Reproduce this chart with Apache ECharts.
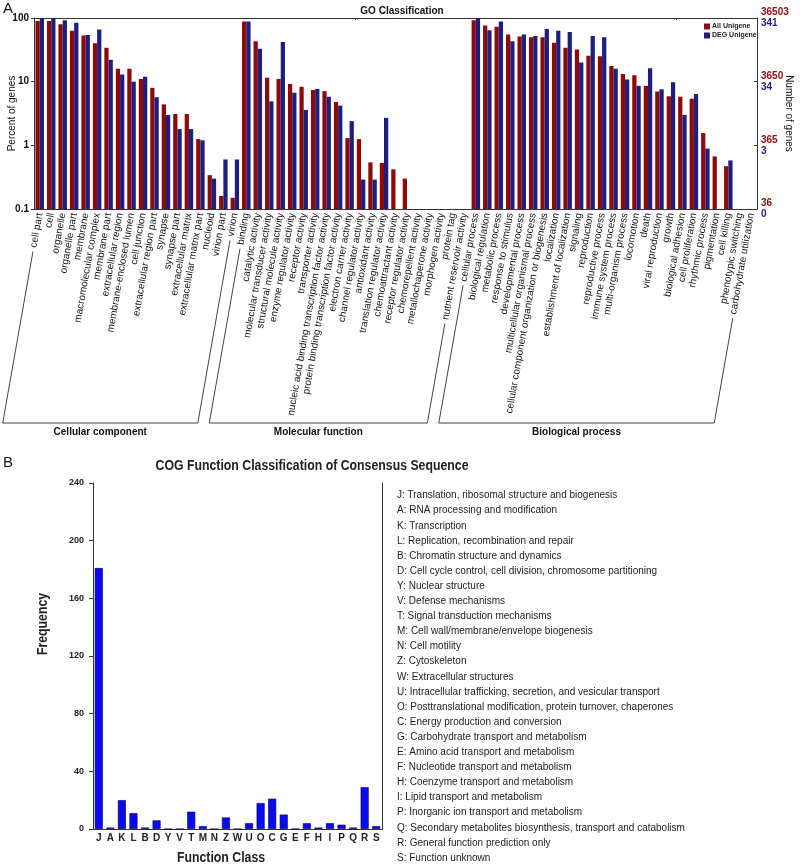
<!DOCTYPE html>
<html>
<head>
<meta charset="utf-8">
<script src="https://cdn.jsdelivr.net/npm/echarts@6/dist/echarts.min.js"></script>
<style>html,body{margin:0;padding:0;background:#fff;}#c{width:800px;height:867px;}</style>
</head>
<body>
<div id="c"></div>
<script>
// ---------------- DATA ----------------
const goCategories = [
  'cell part','cell','organelle','organelle part','membrane','macromolecular complex','membrane part',
  'extracellular region','membrane-enclosed lumen','cell junction','extracellular region part','synapse',
  'synapse part','extracellular matrix','extracellular matrix part','nucleoid','virion part','virion',
  'binding','catalytic activity','molecular transducer activity','structural molecule activity',
  'enzyme regulator activity','receptor activity','transporter activity',
  'nucleic acid binding transcription factor activity','protein binding transcription factor activity',
  'electron carrier activity','channel regulator activity','antioxidant activity','translation regulator activity',
  'chemoattractant activity','receptor regulator activity','chemorepellent activity','metallochaperone activity',
  'morphogen activity','protein tag','nutrient reservoir activity',
  'cellular process','biological regulation','metabolic process','response to stimulus','developmental process',
  'multicellular organismal process','cellular component organization or biogenesis','localization',
  'establishment of localization','signaling','reproduction','reproductive process','immune system process',
  'multi-organism process','locomotion','death','viral reproduction','growth','biological adhesion',
  'cell proliferation','rhythmic process','pigmentation','cell killing','phenotypic switching','carbohydrate utilization'
];
const allUnigene = [
  90, 90, 80, 63, 53, 40, 34, 16, 16, 11, 8, 4.4, 3.1, 3.1, 1.25, 0.34, 0.16, 0.15,
  88, 43, 11.5, 11, 9.2, 8.3, 7.4, 7.1, 4.8, 1.3, 1.25, 0.54, 0.53, 0.42, 0.30, null, null, null, null, null,
  92, 76, 73, 55, 51, 50, 50, 41, 34, 32, 25.5, 25, 17.7, 13.2, 12.6, 8.6, 7.0, 5.9, 5.8, 5.4, 1.56, 0.67, 0.47, null, null
];
const degUnigene = [
  98, 98, 92, 84, 54, 66, 22, 13, 10, 12, 5.7, 3.0, 1.8, 1.8, 1.2, 0.3, 0.6, 0.6,
  88, 33, 4.9, 42, 6.7, 3.6, 7.7, 5.8, 4.2, 2.4, 0.29, 0.29, 2.7, null, null, null, null, null, null, null,
  98, 64, 88, 43, 55, 52, 67, 63, 60, 20, 52, 50, 16, 10.8, 8.6, 16.3, 7.6, 9.8, 3.0, 6.4, 0.89, null, 0.58, null, null
];
const goGroupNames = ['Cellular component', 'Molecular function', 'Biological process'];
const goGroupSizes = [18, 20, 25];
const percentTickLabels = ['0.1', '1', '10', '100'];
const rightAllLabels = ['36', '365', '3650', '36503'];
const rightDegLabels = ['0', '3', '34', '341'];
const seriesNames = ['All Unigene', 'DEG Unigene'];

const cogClasses = ['J','A','K','L','B','D','Y','V','T','M','N','Z','W','U','O','C','G','E','F','H','I','P','Q','R','S'];
const cogFrequency = [181, 1, 20, 11, 1, 6, 0, 0, 12, 2, 0, 8, 0, 4, 18, 21, 10, 0, 4, 1, 4, 3, 1, 29, 2];
const cogDescriptions = [
  'J: Translation, ribosomal structure and biogenesis',
  'A: RNA processing and modification',
  'K: Transcription',
  'L: Replication, recombination and repair',
  'B: Chromatin structure and dynamics',
  'D: Cell cycle control, cell division, chromosome partitioning',
  'Y: Nuclear structure',
  'V: Defense mechanisms',
  'T: Signal transduction mechanisms',
  'M: Cell wall/membrane/envelope biogenesis',
  'N: Cell motility',
  'Z: Cytoskeleton',
  'W: Extracellular structures',
  'U: Intracellular trafficking, secretion, and vesicular transport',
  'O: Posttranslational modification, protein turnover, chaperones',
  'C: Energy production and conversion',
  'G: Carbohydrate transport and metabolism',
  'E: Amino acid transport and metabolism',
  'F: Nucleotide transport and metabolism',
  'H: Coenzyme transport and metabolism',
  'I: Lipid transport and metabolism',
  'P: Inorganic ion transport and metabolism',
  'Q: Secondary metabolites biosynthesis, transport and catabolism',
  'R: General function prediction only',
  'S: Function unknown'
];
const cogYTicks = [0, 40, 80, 120, 160, 200, 240];

// ---------------- STYLE ----------------
const FONT = '"Liberation Sans", Arial, Helvetica, sans-serif';
const RED = '#8c0a0a';
const BLUE = '#1e1e7e';
const COG_BLUE = '#0a0af0';
const LABEL_ROT = 80;
const LABEL_FS = 10;
const LABEL_MARGIN = 4;
const BRACKET_Y = 423;
const NARROW_SCALE = 0.82;

const chart = echarts.init(document.getElementById('c'), null, {renderer: 'canvas'});

const option = {
  backgroundColor: '#fff',
  animation: false,
  textStyle: {fontFamily: FONT},
  title: [
    {text: 'GO Classification', left: 397, top: 1, textAlign: 'center',
      textStyle: {fontSize: 10, fontWeight: 'bold', color: '#111', fontFamily: FONT}}
  ],
  legend: {
    data: seriesNames,
    orient: 'vertical', left: 699, top: 18,
    itemWidth: 6, itemHeight: 6, itemGap: 2,
    icon: 'rect',
    textStyle: {fontSize: 7, fontWeight: 'bold', color: '#222', padding: [0, 0, 0, -3]}
  },
  grid: [
    {left: 34, right: 43, top: 18, height: 191, outerBoundsMode: 'none', containLabel: false},
    {left: 93, width: 289, top: 483, height: 346, outerBoundsMode: 'none', containLabel: false}
  ],
  xAxis: [
    {gridIndex: 0, type: 'category', data: goCategories, position: 'bottom',
      axisLine: {lineStyle: {color: '#333', width: 1}},
      axisTick: {show: false},
      axisLabel: {interval: 0, rotate: LABEL_ROT, fontSize: LABEL_FS, color: '#111', margin: LABEL_MARGIN, fontFamily: FONT}},
    {gridIndex: 0, type: 'category', data: goCategories, position: 'top',
      axisLine: {lineStyle: {color: '#333', width: 1}},
      axisTick: {show: true, inside: true, length: 2, lineStyle: {color: '#333'}},
      axisLabel: {show: false}},
    {gridIndex: 1, type: 'category', data: cogClasses, position: 'bottom',
      axisLine: {lineStyle: {color: '#333', width: 1}},
      axisTick: {show: false},
      axisLabel: {interval: 0, fontSize: 10, fontWeight: 'bold', color: '#222', margin: 4, fontFamily: FONT}},
    {gridIndex: 1, type: 'category', data: cogClasses, position: 'top',
      axisLine: {lineStyle: {color: '#333', width: 1}},
      axisTick: {show: false}, axisLabel: {show: false}}
  ],
  yAxis: [
    {gridIndex: 0, type: 'log', logBase: 10, min: 0.1, max: 100, startValue: 0.1,
      axisLine: {show: true, lineStyle: {color: '#333'}},
      axisTick: {show: true, length: 3, lineStyle: {color: '#333'}},
      splitLine: {show: false},
      axisLabel: {fontSize: 10, fontWeight: 'bold', color: '#111', margin: 5,
        formatter: v => percentTickLabels[Math.round(Math.log10(v)) + 1]},
      name: 'Percent of genes', nameLocation: 'middle', nameGap: 17, nameMoveOverlap: false,
      nameTextStyle: {fontSize: 10, color: '#111'}},
    {gridIndex: 0, type: 'log', logBase: 10, min: 0.1, max: 100, position: 'right',
      axisLine: {show: true, lineStyle: {color: '#333'}},
      axisTick: {show: true, inside: true, length: 3, lineStyle: {color: '#333'}},
      splitLine: {show: false},
      axisLabel: {margin: 4, lineHeight: 11,
        formatter: v => {
          const i = Math.round(Math.log10(v)) + 1;
          return '{r|' + rightAllLabels[i] + '}\n{b|' + rightDegLabels[i] + '}';
        },
        rich: {
          r: {color: RED, fontSize: 10, fontWeight: 'bold', fontFamily: FONT, lineHeight: 11},
          b: {color: BLUE, fontSize: 10, fontWeight: 'bold', fontFamily: FONT, lineHeight: 11}
        }},
      name: 'Number of genes', nameLocation: 'middle', nameGap: 27, nameRotate: -90, nameMoveOverlap: false,
      nameTextStyle: {fontSize: 10, color: '#111'}},
    {gridIndex: 1, type: 'value', min: 0, max: 240, interval: 40,
      axisLine: {show: true, lineStyle: {color: '#333'}},
      axisTick: {show: true, length: 4, lineStyle: {color: '#333'}},
      splitLine: {show: false},
      axisLabel: {fontSize: 9, fontWeight: 'bold', color: '#222', margin: 9, fontFamily: FONT,
        formatter: v => cogYTicks.indexOf(v) >= 0 ? String(v) : ''}},
    {gridIndex: 1, type: 'value', min: 0, max: 240, position: 'right',
      axisLine: {show: true, lineStyle: {color: '#333'}},
      axisTick: {show: false}, axisLabel: {show: false}, splitLine: {show: false}}
  ],
  series: [
    {name: seriesNames[0], type: 'bar', xAxisIndex: 0, yAxisIndex: 0, data: allUnigene,
      barWidth: '37%', barGap: '0%', itemStyle: {color: RED}},
    {name: seriesNames[1], type: 'bar', xAxisIndex: 0, yAxisIndex: 0, data: degUnigene,
      barWidth: '37%', barGap: '0%', itemStyle: {color: BLUE}},
    {name: 'COG', type: 'bar', xAxisIndex: 2, yAxisIndex: 2, data: cogFrequency,
      barWidth: 8, itemStyle: {color: COG_BLUE, borderColor: '#00005a', borderWidth: 0.6}}
  ],
  graphic: []
};
chart.setOption(option);

// ------------- Group brackets (computed from axis positions) -------------
const ctx = document.createElement('canvas').getContext('2d');
ctx.font = LABEL_FS + 'px ' + FONT;
const th = LABEL_ROT * Math.PI / 180;
const dx = -Math.cos(th), dy = Math.sin(th);
const axisY = chart.convertToPixel({yAxisIndex: 0}, 0.1);
function labelEnd(idx) {
  const x = chart.convertToPixel({xAxisIndex: 0}, goCategories[idx]);
  const y = axisY + LABEL_MARGIN;
  const L = ctx.measureText(goCategories[idx]).width + 4;
  return [x + dx * L, y + dy * L];
}
function toBase(p) {
  return [p[0] + dx * (BRACKET_Y - p[1]) / dy, BRACKET_Y];
}
const graphics = [];
let start = 0;
goGroupNames.forEach((name, g) => {
  const i0 = start, i1 = start + goGroupSizes[g] - 1;
  start += goGroupSizes[g];
  const a = labelEnd(i0), b = labelEnd(i1);
  const a2 = toBase(a), b2 = toBase(b);
  graphics.push({type: 'polyline', shape: {points: [a, a2, b2, b]},
    style: {stroke: '#444', lineWidth: 1, fill: null}, silent: true});
  graphics.push({type: 'text', x: (a2[0] + b2[0]) / 2, y: BRACKET_Y + 9,
    style: {text: name, font: 'bold 10px ' + FONT, fill: '#111',
      textAlign: 'center', textVerticalAlign: 'middle'}});
});
// COG plot: titles in a condensed bold face (scaled)
graphics.push({type: 'text', x: 312, y: 466, scaleX: NARROW_SCALE,
  style: {text: 'COG Function Classification of Consensus Sequence', font: 'bold 15px ' + FONT,
    fill: '#222', textAlign: 'center', textVerticalAlign: 'middle'}});
graphics.push({type: 'text', x: 221, y: 858, scaleX: NARROW_SCALE,
  style: {text: 'Function Class', font: 'bold 15px ' + FONT, fill: '#222',
    textAlign: 'center', textVerticalAlign: 'middle'}});
graphics.push({type: 'text', x: 43, y: 624, rotation: Math.PI / 2, scaleX: NARROW_SCALE,
  style: {text: 'Frequency', font: 'bold 15px ' + FONT, fill: '#222',
    textAlign: 'center', textVerticalAlign: 'middle'}});
graphics.push({type: 'text', x: 3, y: 1, style: {text: 'A', font: '15px ' + FONT, fill: '#111'}});
graphics.push({type: 'text', x: 3, y: 455, style: {text: 'B', font: '15px ' + FONT, fill: '#111'}});
graphics.push({type: 'text', x: 397, y: 488,
  style: {text: cogDescriptions.join('\n'), font: '10px ' + FONT, fill: '#222', lineHeight: 15.1}});
chart.setOption({graphic: graphics});
</script>
</body>
</html>
